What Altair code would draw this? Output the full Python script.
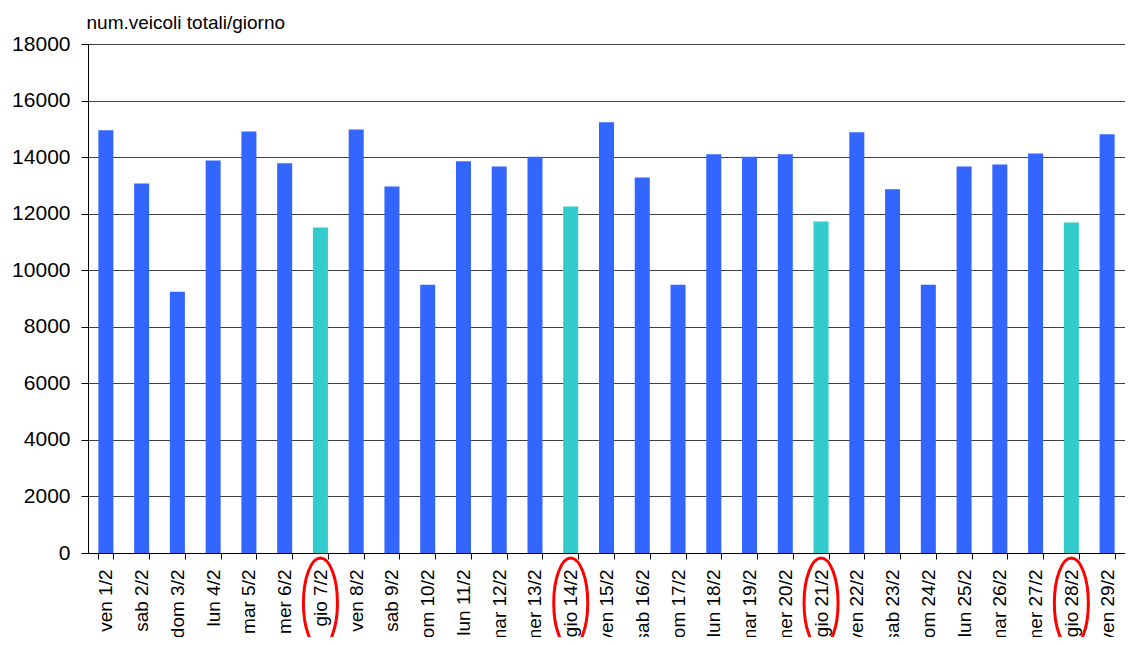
import altair as alt
import pandas as pd

days = ["ven 1/2", "sab 2/2", "dom 3/2", "lun 4/2", "mar 5/2", "mer 6/2", "gio 7/2",
        "ven 8/2", "sab 9/2", "dom 10/2", "lun 11/2", "mar 12/2", "mer 13/2", "gio 14/2",
        "ven 15/2", "sab 16/2", "dom 17/2", "lun 18/2", "mar 19/2", "mer 20/2", "gio 21/2",
        "ven 22/2", "sab 23/2", "dom 24/2", "lun 25/2", "mar 26/2", "mer 27/2", "gio 28/2",
        "ven 29/2"]
vehicles = [14950, 13070, 9240, 13880, 14910, 13780, 11510,
            14980, 12960, 9490, 13850, 13670, 14010, 12250,
            15230, 13280, 9490, 14100, 14010, 14100, 11720,
            14880, 12860, 9490, 13670, 13740, 14130, 11690,
            14810]

df = pd.DataFrame({
    "giorno": days,
    "veicoli": vehicles,
    "tipo": ["gio" if d.startswith("gio") else "altro" for d in days],
})
circled = df[df["tipo"] == "gio"]

FONT = "Liberation Sans"

x_enc = alt.X("giorno:N", sort=days,
              scale=alt.Scale(paddingInner=0.58, paddingOuter=0.29),
              axis=alt.Axis(title=None, labelAngle=-90, labelFontSize=19, labelFont=FONT,
                            labelColor="black", labelPadding=10, tickSize=6,
                            tickColor="black", domainColor="black", tickBand="extent",
                            labelOverlap=False))

bars = alt.Chart(df).mark_bar().encode(
    x=x_enc,
    y=alt.Y("veicoli:Q",
            scale=alt.Scale(domain=[0, 18000], nice=False),
            axis=alt.Axis(values=list(range(0, 18001, 2000)), title="num.veicoli totali/giorno",
                          titleAngle=0, titleAlign="left", titleBaseline="alphabetic",
                          titleX=-2, titleY=-16, titleFontSize=19, titleFontWeight="normal",
                          titleFont=FONT, titleColor="black",
                          labelFontSize=21, labelFont=FONT, labelColor="black",
                          labelPadding=11, tickSize=7, tickColor="black",
                          domainColor="black", grid=True, gridColor="#404040",
                          gridWidth=1, format="d")),
    color=alt.Color("tipo:N", scale=alt.Scale(domain=["altro", "gio"],
                                              range=["#3366FF", "#33CCCC"]),
                    legend=None),
)

ellipse_path = "M0,-1A0.378,1 0 1,1 0,1A0.378,1 0 1,1 0,-1Z"
ellipses = alt.Chart(circled).mark_point(
    shape=ellipse_path, filled=False, color="#FF0000", strokeWidth=3, size=8100, opacity=1
).encode(
    x=alt.X("giorno:N", sort=days),
    y=alt.value(559),
)

chart = alt.layer(bars, ellipses).properties(
    width=1037, height=509,
    autosize=alt.AutoSizeParams(type="none"),
    padding={"left": 80, "top": 36, "right": 0, "bottom": 84},
).configure_view(stroke=None).configure(font=FONT)

chart.save("out.html", embed_options={"renderer": "svg", "actions": False})
